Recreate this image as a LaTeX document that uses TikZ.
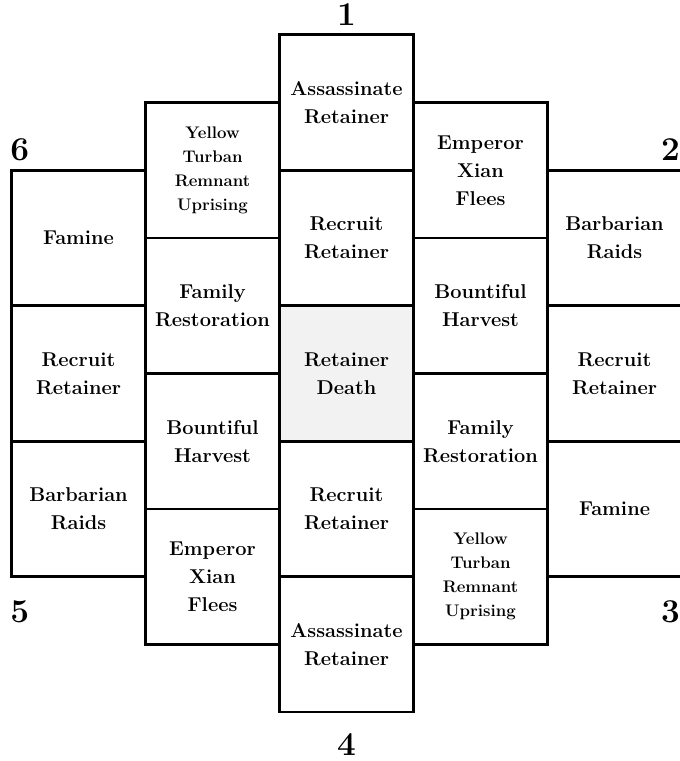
\documentclass[tikz,border=0pt]{standalone}
\usepackage{fontspec}
\usepackage{tikz}
\usetikzlibrary{positioning}
\tikzstyle{cell} = [rectangle, draw, line width=2pt, fill=white,
    minimum width=100.5pt, minimum height=101.6pt, inner sep=0pt,
    align=center, font=\fontsize{15}{21}\selectfont\bfseries]
\tikzstyle{small} = [font=\fontsize{12.6}{18}\selectfont\bfseries]
\tikzstyle{dead} = [fill=black!5]
\tikzstyle{num} = [inner sep=0pt, font=\fontsize{25}{30}\selectfont\bfseries]

\begin{document}
\begin{tikzpicture}[x=0.75pt, y=-0.75pt, node distance=101.6pt]
    \useasboundingbox (0,0) rectangle (679,761);
    % Middle column
    \node [cell] (assassinT) at (346.5,102.5) {Assassinate\\Retainer};
    \node [cell, below of=assassinT] (recruitT) {Recruit\\Retainer};
    \node [cell, dead, below of=recruitT] (death) {Retainer\\Death};
    \node [cell, below of=death] (recruitB) {Recruit\\Retainer};
    \node [cell, below of=recruitB] (assassinB) {Assassinate\\Retainer};
    % Inner left column
    \node [cell, small] (yellowL) at (212.5,170.25) {Yellow\\Turban\\Remnant\\Uprising};
    \node [cell, below of=yellowL] (familyL) {Family\\Restoration};
    \node [cell, below of=familyL] (harvestL) {Bountiful\\Harvest};
    \node [cell, below of=harvestL] (flightL) {Emperor\\Xian\\Flees};
    % Inner right column
    \node [cell] (flightR) at (480.5,170.25) {Emperor\\Xian\\Flees};
    \node [cell, below of=flightR] (harvestR) {Bountiful\\Harvest};
    \node [cell, below of=harvestR] (familyR) {Family\\Restoration};
    \node [cell, small, below of=familyR] (yellowR) {Yellow\\Turban\\Remnant\\Uprising};
    % Outer columns
    \node [cell] (famineL) at (78.5,238) {Famine};
    \node [cell, below of=famineL] (recruitL) {Recruit\\Retainer};
    \node [cell, below of=recruitL] (raidsL) {Barbarian\\Raids};
    \node [cell] (raidsR) at (614.5,238) {Barbarian\\Raids};
    \node [cell, below of=raidsR] (recruitR) {Recruit\\Retainer};
    \node [cell, below of=recruitR] (famineR) {Famine};
    % Numbers
    \node [num, above=6pt of assassinT] (n1) {1};
    \node [num, above left=6pt and 2pt of raidsR.north east] (n2) {2};
    \node [num, below left=17pt and 2pt of famineR.south east] (n3) {3};
    \node [num, below=15pt of assassinB] (n4) {4};
    \node [num, below right=17pt and 0pt of raidsL.south west] (n5) {5};
    \node [num, above right=6pt and 0pt of famineL.north west] (n6) {6};
\end{tikzpicture}
\end{document}
